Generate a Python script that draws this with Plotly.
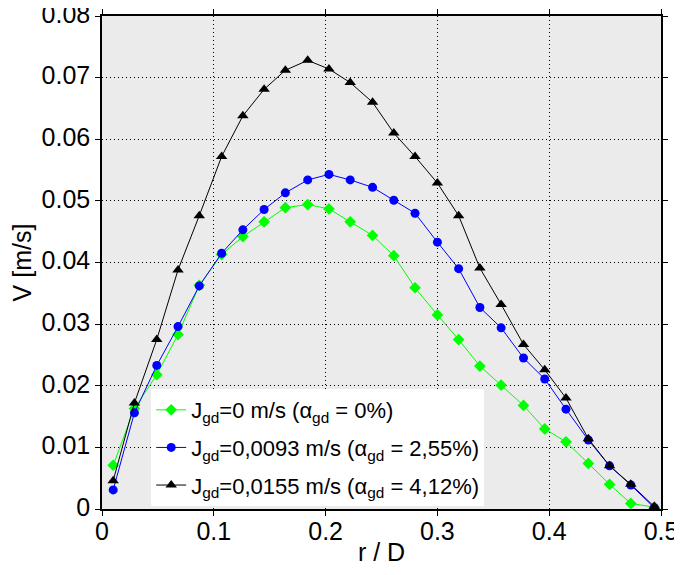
import plotly.graph_objects as go

r_D = [0.010, 0.029, 0.049, 0.068, 0.087, 0.107, 0.126, 0.145, 0.164, 0.184,
       0.203, 0.222, 0.242, 0.261, 0.280, 0.300, 0.319, 0.338, 0.357, 0.377,
       0.396, 0.415, 0.435, 0.454, 0.473, 0.494]

v_0 = [0.0071, 0.0163, 0.0218, 0.0283, 0.0363, 0.0413, 0.0442, 0.0466, 0.0489, 0.0494,
       0.0487, 0.0466, 0.0444, 0.0411, 0.0359, 0.0315, 0.0275, 0.0232, 0.0201, 0.0168,
       0.0130, 0.0109, 0.0074, 0.0040, 0.0009, 0.0003]

v_0093 = [0.0031, 0.0156, 0.0233, 0.0296, 0.0362, 0.0415, 0.0453, 0.0486, 0.0513, 0.0534,
          0.0543, 0.0534, 0.0522, 0.0501, 0.0480, 0.0433, 0.0390, 0.0327, 0.0294, 0.0245,
          0.0211, 0.0162, 0.0112, 0.0070, 0.0039, 0.0002]

v_0155 = [0.0046, 0.0172, 0.0275, 0.0388, 0.0476, 0.0572, 0.0638, 0.0681, 0.0712, 0.0728,
          0.0714, 0.0692, 0.0660, 0.0610, 0.0572, 0.0529, 0.0476, 0.0391, 0.0332, 0.0267,
          0.0226, 0.0180, 0.0114, 0.0070, 0.0040, 0.0004]

names = ["J<sub>gd</sub>=0 m/s (α<sub>gd</sub> = 0%)",
         "J<sub>gd</sub>=0,0093 m/s (α<sub>gd</sub> = 2,55%)",
         "J<sub>gd</sub>=0,0155 m/s (α<sub>gd</sub> = 4,12%)"]

x_ticks = [0, 0.1, 0.2, 0.3, 0.4, 0.5]
x_tick_labels = ["0", "0.1", "0.2", "0.3", "0.4", "0.5"]
y_ticks = [0, 0.01, 0.02, 0.03, 0.04, 0.05, 0.06, 0.07, 0.08]
y_tick_labels = ["0", "0.01", "0.02", "0.03", "0.04", "0.05", "0.06", "0.07", "0.08"]

fig = go.Figure()
fig.add_trace(go.Scatter(x=r_D, y=v_0, mode="lines+markers", name=names[0],
                         legendgroup="g1",
                         line=dict(color="#00ff00", width=1),
                         marker=dict(symbol="diamond", size=9, color="#00ff00")))
fig.add_trace(go.Scatter(x=r_D, y=v_0093, mode="lines+markers", name=names[1],
                         legendgroup="g2",
                         line=dict(color="#0000ff", width=1),
                         marker=dict(symbol="circle", size=9, color="#0000ff")))
fig.add_trace(go.Scatter(x=r_D, y=v_0155, mode="lines+markers", name=names[2],
                         legendgroup="g3",
                         line=dict(color="#000000", width=1),
                         marker=dict(symbol="triangle-up", size=10, color="#000000")))

axis_common = dict(showline=True, linecolor="black", linewidth=1.5, mirror="ticks",
                   ticks="outside", ticklen=5, tickcolor="black", automargin=False,
                   ticklabeloverflow="allow",
                   showgrid=True, gridcolor="#000000", gridwidth=1, griddash="1px,3px",
                   zeroline=False, tickfont=dict(size=25, color="black"),
                   title_font=dict(size=25, color="black"))

fig.update_xaxes(range=[0, 0.5], tickvals=x_ticks, ticktext=x_tick_labels,
                 ticklabelstandoff=-6,
                 title_text="r / D", title_standoff=0, **axis_common)
fig.update_yaxes(range=[0, 0.08], tickvals=y_ticks, ticktext=y_tick_labels,
                 ticklabelshift=-2,
                 title_text="V [m/s]", title_standoff=10, **axis_common)

fig.update_layout(
    width=674, height=567,
    margin=dict(l=94, r=21, t=8, b=66),
    plot_bgcolor="#ebebeb", paper_bgcolor="white",
    font=dict(family="Liberation Sans, Arial, sans-serif", color="black"),
    legend=dict(x=0.088, y=0.006, xanchor="left", yanchor="bottom",
                bgcolor="white", borderwidth=0, font=dict(size=22),
                traceorder="grouped", tracegroupgap=6),
    showlegend=True,
)

fig.write_html("out.html")
